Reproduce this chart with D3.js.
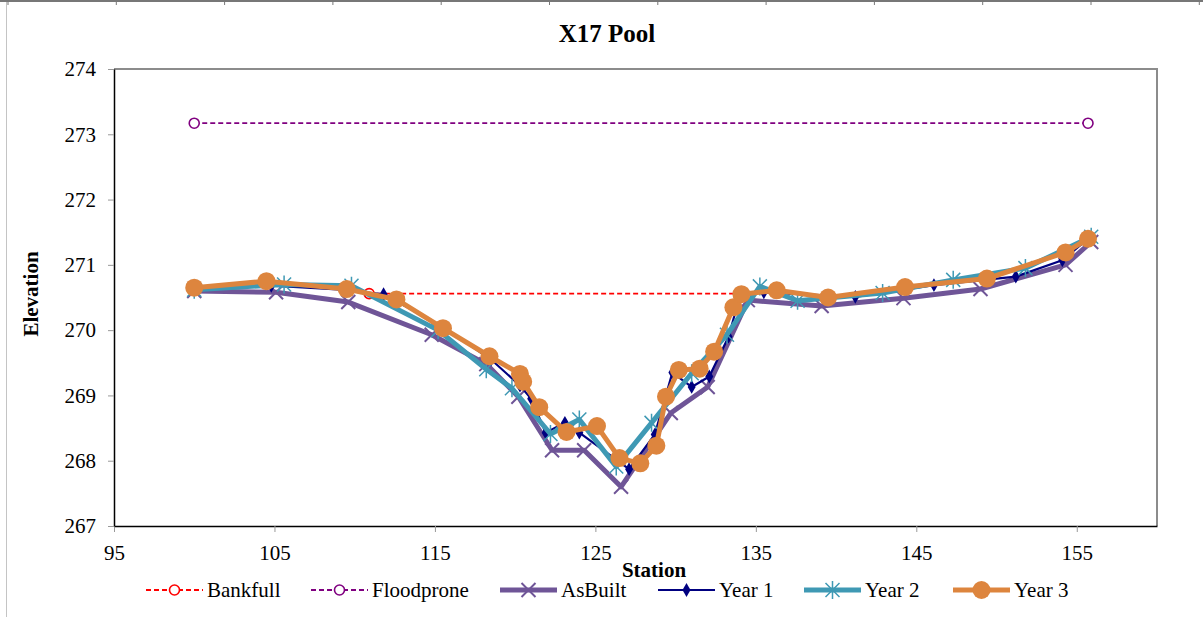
<!DOCTYPE html>
<html>
<head>
<meta charset="utf-8">
<script src="https://cdn.jsdelivr.net/npm/d3@7"></script>
<style>
    body { margin: 0; background: #fff; }
    text { font-family: "Liberation Serif", "Times New Roman", serif; fill: #000; }
</style>
</head>
<body>
<div id="chart"></div>
<script>
    // values
    var xTicks = [95, 105, 115, 125, 135, 145, 155];
    var yTicks = [267, 268, 269, 270, 271, 272, 273, 274];

    var bankfullX = [110.9, 134.2];
    var bankfullY = [270.56, 270.56];

    var floodproneX = [100.0, 155.7];
    var floodproneY = [273.17, 273.17];

    var asbuiltX = [100.0, 105.1, 109.6, 114.8, 118.2, 120.2, 122.3, 124.3, 126.6, 129.7, 132.0, 134.5, 139.1, 144.2, 149.0, 154.3, 155.9];
    var asbuiltY = [270.60, 270.58, 270.43, 269.93, 269.48, 268.98, 268.16, 268.16, 267.60, 268.73, 269.13, 270.46, 270.37, 270.49, 270.63, 271.00, 271.35];

    var year1X = [100.0, 104.8, 109.2, 111.8, 115.5, 118.5, 120.3, 121.0, 121.9, 123.1, 124.0, 127.1, 128.7, 129.8, 131.0, 132.1, 133.3, 134.0, 135.5, 141.2, 146.1, 151.2, 154.1, 155.8];
    var year1Y = [270.63, 270.68, 270.62, 270.55, 270.05, 269.55, 269.15, 268.95, 268.43, 268.58, 268.43, 267.87, 268.40, 269.35, 269.13, 269.29, 269.90, 270.52, 270.58, 270.51, 270.69, 270.82, 271.07, 271.42];

    var year2X = [100.0, 105.6, 109.8, 115.2, 118.2, 119.8, 122.2, 124.0, 126.3, 128.5, 131.0, 133.2, 135.25, 137.6, 142.9, 147.3, 151.8, 155.9];
    var year2Y = [270.62, 270.70, 270.68, 270.00, 269.40, 269.11, 268.41, 268.63, 267.91, 268.58, 269.34, 269.93, 270.67, 270.45, 270.57, 270.77, 270.95, 271.43];

    var year3X = [100.0, 104.5, 109.5, 112.6, 115.5, 118.4, 120.3, 120.5, 121.5, 123.2, 125.1, 126.5, 127.8, 128.8, 129.4, 130.2, 131.5, 132.4, 133.6, 134.1, 136.3, 139.5, 144.3, 149.4, 154.3, 155.7];
    var year3Y = [270.65, 270.75, 270.63, 270.47, 270.03, 269.60, 269.33, 269.21, 268.82, 268.44, 268.53, 268.04, 267.96, 268.23, 268.98, 269.39, 269.41, 269.67, 270.35, 270.55, 270.61, 270.50, 270.66, 270.79, 271.19, 271.40];

    var series = [
        {name: "Bankfull", xs: bankfullX, ys: bankfullY, color: "#ff0000", width: 1.8, dash: "5,3", marker: "ring"},
        {name: "Floodprone", xs: floodproneX, ys: floodproneY, color: "#800080", width: 1.8, dash: "5,3", marker: "ring"},
        {name: "AsBuilt", xs: asbuiltX, ys: asbuiltY, color: "#6f5597", width: 5, dash: null, marker: "cross"},
        {name: "Year 1", xs: year1X, ys: year1Y, color: "#000080", width: 2.2, dash: null, marker: "diamond"},
        {name: "Year 2", xs: year2X, ys: year2Y, color: "#3f99b4", width: 5, dash: null, marker: "star"},
        {name: "Year 3", xs: year3X, ys: year3Y, color: "#dd853e", width: 5, dash: null, marker: "dot"}
    ];

    var width = 1203;
    var height = 617;
    var plot = {left: 114, top: 69, right: 1157, bottom: 526};
    var fontSize = "21px";

    var svg = d3.select("#chart").append("svg")
        .attr("width", width)
        .attr("height", height);

    // spreadsheet cell edges around the chart
    svg.append("line").attr("x1", 0).attr("x2", width).attr("y1", 1).attr("y2", 1)
        .attr("stroke", "#777").attr("stroke-width", 2);
    svg.append("g").selectAll("line")
        .data(d3.range(8, width, 108.3))
        .enter().append("line")
        .attr("x1", function (d) { return d; })
        .attr("x2", function (d) { return d; })
        .attr("y1", 0).attr("y2", 5)
        .attr("stroke", "#777");
    svg.append("line").attr("x1", 6.5).attr("x2", 6.5).attr("y1", 2).attr("y2", height)
        .attr("stroke", "#c4c4c4").attr("stroke-width", 1);

    var x = d3.scaleLinear().domain([95, 160]).range([plot.left, plot.right]);
    var y = d3.scaleLinear().domain([267, 274]).range([plot.bottom, plot.top]);

    // plot area frame (top and right grey)
    svg.append("path")
        .attr("d", "M" + plot.left + "," + plot.top + "H" + plot.right + "V" + plot.bottom)
        .attr("fill", "none")
        .attr("stroke", "#8c8c8c")
        .attr("stroke-width", 2);

    var xAxis = svg.append("g")
        .attr("transform", "translate(0," + plot.bottom + ")")
        .call(d3.axisBottom(x).tickValues(xTicks).tickSize(6).tickSizeOuter(0).tickFormat(d3.format("d")));
    xAxis.select(".domain").attr("stroke", "#000").attr("stroke-width", 1.5);
    xAxis.selectAll(".tick line").attr("stroke", "#999");
    xAxis.selectAll(".tick text")
        .attr("y", 19)
        .attr("dy", "0.71em")
        .style("font-family", "Liberation Serif")
        .style("font-size", fontSize);

    var yAxis = svg.append("g")
        .attr("transform", "translate(" + plot.left + ",0)")
        .call(d3.axisLeft(y).tickValues(yTicks).tickSize(6).tickSizeOuter(0).tickFormat(d3.format("d")));
    yAxis.select(".domain").attr("stroke", "#000").attr("stroke-width", 1.5);
    yAxis.selectAll(".tick line").attr("stroke", "#999");
    yAxis.selectAll(".tick text")
        .attr("x", -18)
        .style("font-family", "Liberation Serif")
        .style("font-size", fontSize);

    function drawMarker(g, kind, color, cx, cy) {
        if (kind === "ring") {
            g.append("circle").attr("cx", cx).attr("cy", cy).attr("r", 5)
                .attr("fill", "#fff").attr("stroke", color).attr("stroke-width", 1.6);
        } else if (kind === "cross") {
            g.append("path")
                .attr("d", "M" + (cx - 7) + "," + (cy - 7) + "L" + (cx + 7) + "," + (cy + 7) +
                    "M" + (cx - 7) + "," + (cy + 7) + "L" + (cx + 7) + "," + (cy - 7))
                .attr("stroke", color).attr("stroke-width", 2).attr("fill", "none");
        } else if (kind === "diamond") {
            g.append("path")
                .attr("d", d3.symbol().type(d3.symbolDiamond).size(55)())
                .attr("transform", "translate(" + cx + "," + cy + ")")
                .attr("fill", color);
        } else if (kind === "star") {
            g.append("path")
                .attr("d", "M" + (cx - 7) + "," + (cy - 7) + "L" + (cx + 7) + "," + (cy + 7) +
                    "M" + (cx - 7) + "," + (cy + 7) + "L" + (cx + 7) + "," + (cy - 7) +
                    "M" + cx + "," + (cy - 9) + "L" + cx + "," + (cy + 9))
                .attr("stroke", color).attr("stroke-width", 1.5).attr("fill", "none");
        } else if (kind === "dot") {
            g.append("circle").attr("cx", cx).attr("cy", cy).attr("r", 9).attr("fill", color);
        }
    }

    var line = d3.line()
        .x(function (d) { return x(d[0]); })
        .y(function (d) { return y(d[1]); });

    series.forEach(function (s) {
        var pts = d3.zip(s.xs, s.ys);
        var g = svg.append("g");
        g.append("path")
            .datum(pts)
            .attr("d", line)
            .attr("fill", "none")
            .attr("stroke", s.color)
            .attr("stroke-width", s.width)
            .attr("stroke-linejoin", "round")
            .attr("stroke-dasharray", s.dash);
        pts.forEach(function (p) {
            drawMarker(g, s.marker, s.color, x(p[0]), y(p[1]));
        });
    });

    // titles
    svg.append("text")
        .attr("x", 607).attr("y", 42)
        .attr("text-anchor", "middle")
        .style("font-size", "25px").style("font-weight", "bold")
        .text("X17 Pool");

    svg.append("text")
        .attr("transform", "translate(38,294) rotate(-90)")
        .attr("text-anchor", "middle")
        .style("font-size", fontSize).style("font-weight", "bold")
        .text("Elevation");

    svg.append("text")
        .attr("x", 654).attr("y", 577)
        .attr("text-anchor", "middle")
        .style("font-size", fontSize).style("font-weight", "bold")
        .text("Station");

    // legend
    var legendX = [146, 311, 500, 658, 804, 953];
    var legendY = 590;
    series.forEach(function (s, i) {
        var g = svg.append("g");
        var x0 = legendX[i];
        g.append("line")
            .attr("x1", x0).attr("x2", x0 + 57)
            .attr("y1", legendY).attr("y2", legendY)
            .attr("stroke", s.color)
            .attr("stroke-width", s.width)
            .attr("stroke-dasharray", s.dash);
        drawMarker(g, s.marker, s.color, x0 + 28.5, legendY);
        g.append("text")
            .attr("x", x0 + 61).attr("y", legendY)
            .attr("dy", "0.35em")
            .style("font-size", fontSize)
            .text(s.name);
    });
</script>
</body>
</html>
